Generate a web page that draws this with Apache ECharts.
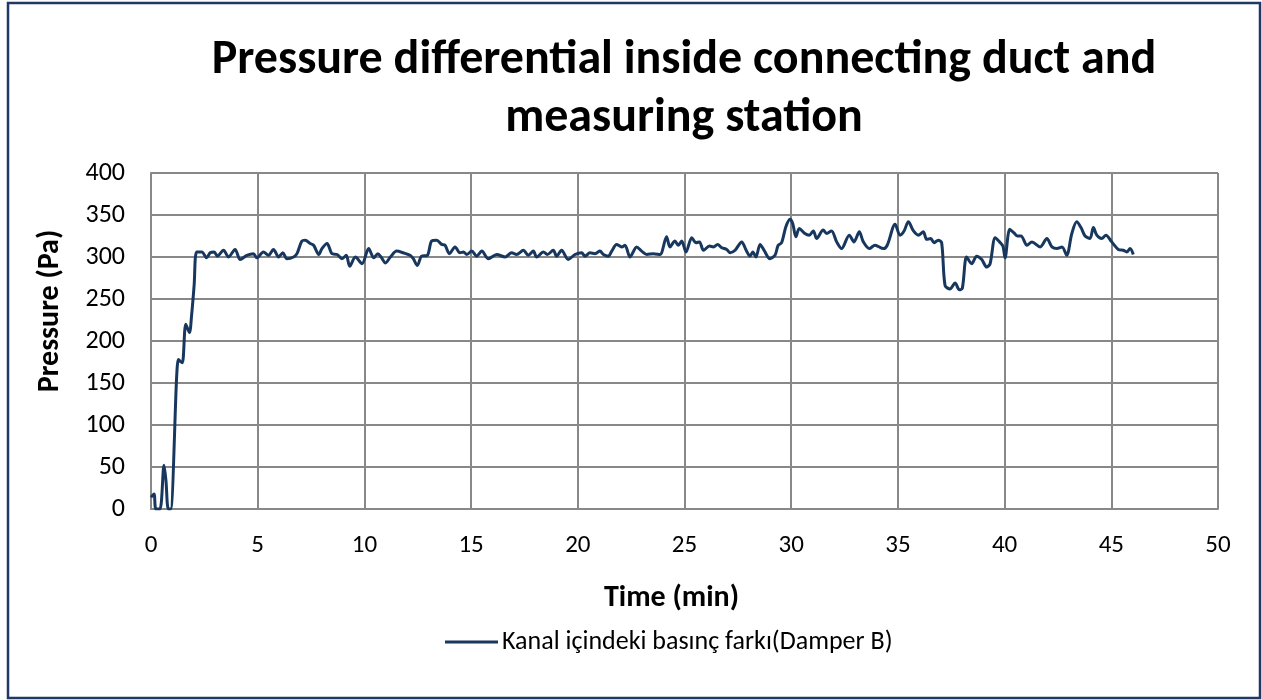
<!DOCTYPE html>
<html>
<head>
<meta charset="utf-8">
<title>Pressure differential</title>
<script src="https://cdn.jsdelivr.net/npm/echarts@6/dist/echarts.min.js"></script>
<style>
  html, body { margin: 0; padding: 0; background: #fff; }
  #chart { width: 1262px; height: 700px; }
</style>
</head>
<body>
<div id="chart"></div>
<script>
// time in minutes
var times = [
  0, 0.14, 0.23, 0.42, 0.61, 0.7, 0.81, 0.92, 1.28, 1.36, 1.47, 1.63, 1.8, 1.9, 2.02, 2.14,
  2.38, 2.61, 2.77, 2.96, 3.11, 3.4, 3.63, 3.94, 4.18, 4.49, 4.8, 4.96, 5.27, 5.5, 5.74, 5.98,
  6.18, 6.37, 6.68, 6.84, 7.07, 7.23, 7.46, 7.62, 7.86, 8.01, 8.25, 8.48, 8.72, 8.95, 9.15, 9.31,
  9.58, 9.89, 10.2, 10.44, 10.63, 10.78, 10.99, 11.22, 11.51, 11.82, 12.14, 12.29, 12.48, 12.68,
  12.95, 13.15, 13.39, 13.62, 13.78, 13.98, 14.25, 14.48, 14.64, 14.8, 15.03, 15.26, 15.5, 15.81,
  16.2, 16.59, 16.9, 17.13, 17.45, 17.68, 17.92, 18.07, 18.39, 18.57, 18.85, 19.01, 19.24, 19.55,
  19.87, 20.18, 20.34, 20.57, 20.81, 21.04, 21.2, 21.43, 21.59, 21.82, 22.06, 22.21, 22.45, 22.76,
  22.99, 23.23, 23.54, 23.85, 24.16, 24.32, 24.55, 24.71, 24.87, 25.07, 25.34, 25.54, 25.7, 25.89,
  26.17, 26.36, 26.55, 26.75, 26.98, 27.14, 27.37, 27.68, 27.89, 28.07, 28.2, 28.35, 28.54, 28.73,
  29.0, 29.24, 29.39, 29.55, 29.75, 29.94, 30.07, 30.22, 30.38, 30.64, 30.85, 31.04, 31.19, 31.5,
  31.66, 31.89, 32.13, 32.36, 32.72, 32.94, 33.19, 33.38, 33.66, 33.93, 34.32, 34.5, 34.87, 35.1,
  35.29, 35.49, 35.73, 35.96, 36.19, 36.35, 36.54, 36.69, 36.89, 37.05, 37.21, 37.44, 37.68, 37.88,
  38.02, 38.22, 38.46, 38.69, 38.93, 39.16, 39.32, 39.56, 39.76, 39.92, 40.02, 40.24, 40.43, 40.61,
  40.77, 41.05, 41.28, 41.67, 41.98, 42.22, 42.45, 42.69, 42.91, 43.15, 43.38, 43.58, 43.77, 44.0,
  44.16, 44.32, 44.55, 44.75, 45.02, 45.33, 45.56, 45.72, 45.88, 46.03
];
// pressure in Pa
var pressure = [
  14, 18, 0, 0, 52, 34, 0, 0, 178, 176, 174, 220, 210, 230, 266, 306,
  306, 299, 305, 306, 301, 308, 300, 309, 297, 302, 304, 299, 306, 302, 309, 300,
  305, 298, 300, 304, 319, 320, 316, 314, 303, 310, 316, 304, 303, 298, 302, 289,
  300, 292, 310, 299, 304, 300, 293, 300, 307, 305, 302, 298, 290, 301,
  302, 319, 320, 315, 314, 304, 312, 305, 306, 303, 307, 301, 307, 298,
  303, 300, 305, 303, 308, 302, 307, 300, 306, 303, 308, 301, 308, 297,
  303, 305, 301, 305, 304, 307, 303, 301, 307, 315, 312, 314, 300, 312,
  307, 303, 304, 303, 324, 312, 319, 314, 319, 306, 323, 317, 318, 308,
  313, 312, 315, 311, 309, 305, 308, 318, 308, 301, 306, 300, 315, 308,
  298, 302, 314, 317, 336, 345, 340, 324, 334, 328, 326, 331, 322, 332,
  328, 331, 318, 310, 326, 318, 330, 318, 310, 314, 310, 314, 339, 326,
  331, 342, 331, 326, 330, 321, 322, 317, 320, 317, 266, 262, 269, 261,
  263, 300, 292, 301, 297, 288, 292, 323, 318, 313, 299, 333, 329, 325,
  325, 314, 318, 312, 322, 312, 310, 312, 302, 328, 342, 335, 325, 322,
  335, 326, 322, 326, 318, 309, 308, 306, 310, 303
];
var seriesName = 'Kanal içindeki basınç farkı(Damper B)';

var points = times.map(function (t, i) { return [t, pressure[i]]; });

var font = 'Calibri, Carlito, "Open Sans", "Noto Sans", sans-serif';
var chart = echarts.init(document.getElementById('chart'));

var option = {
    animation: false,
    backgroundColor: '#fff',
    textStyle: { fontFamily: font },
    title: {
        text: 'Pressure differential inside connecting duct and\nmeasuring station',
        left: 679,
        textAlign: 'center',
        top: 27,
        textStyle: {
            fontSize: 48,
            fontWeight: 'bold',
            color: '#000',
            lineHeight: 58,
            align: 'center',
            fontFamily: font
        }
    },
    grid: {
        left: 151,
        right: 44,
        top: 173,
        bottom: 191
    },
    legend: {
        bottom: 40,
        left: 440,
        itemWidth: 53,
        itemHeight: 3,
        icon: 'rect',
        itemGap: 4,
        textStyle: { fontSize: 26, color: '#000', fontFamily: font, padding: [0, 0, 0, -1] },
        data: [seriesName]
    },
    xAxis: {
        type: 'value',
        min: 0,
        max: 50,
        interval: 5,
        name: 'Time (min)',
        nameLocation: 'middle',
        nameGap: 74,
        nameTextStyle: { fontSize: 30, fontWeight: 'bold', color: '#000', fontFamily: font, padding: [0, 26, 0, 0] },
        axisLine: { show: true, lineStyle: { color: '#888', width: 2 } },
        axisTick: { show: false },
        axisLabel: { fontSize: 25, color: '#000', margin: 24, fontFamily: font },
        splitLine: { show: true, lineStyle: { color: '#888', width: 2 } }
    },
    yAxis: {
        type: 'value',
        min: 0,
        max: 400,
        interval: 50,
        name: 'Pressure (Pa)',
        nameLocation: 'middle',
        nameGap: 86,
        nameRotate: 90,
        nameTextStyle: { fontSize: 30, fontWeight: 'bold', color: '#000', fontFamily: font, padding: [0, 0, 0, 60] },
        axisLine: { show: true, lineStyle: { color: '#888', width: 2 } },
        axisTick: { show: false },
        axisLabel: { fontSize: 26, color: '#000', margin: 26, fontFamily: font },
        splitLine: { show: true, lineStyle: { color: '#888', width: 2 } }
    },
    graphic: [{
        type: 'rect',
        shape: { x: 8, y: 3, width: 1252, height: 695 },
        style: { fill: 'none', stroke: '#1f3864', lineWidth: 2.5 },
        silent: true
    }],
    series: [{
        name: seriesName,
        type: 'line',
        data: points,
        showSymbol: false,
        smooth: 0.3,
        clip: true,
        lineStyle: { color: '#17375e', width: 3 },
        itemStyle: { color: '#17375e' }
    }]
};
chart.setOption(option);
</script>
</body>
</html>
